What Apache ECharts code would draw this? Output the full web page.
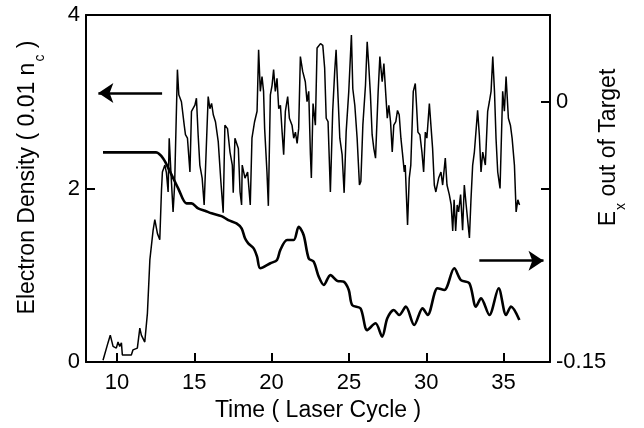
<!DOCTYPE html>
<html>
<head>
<meta charset="utf-8">
<script src="https://cdn.jsdelivr.net/npm/echarts@6/dist/echarts.min.js"></script>
<style>
html,body{margin:0;padding:0;background:#fff;}
#chart{width:644px;height:428px;}
</style>
</head>
<body>
<div id="chart"></div>
<script>
// Electron density (left axis, thin noisy line)
const timeDensity = [9.10,9.42,9.57,9.75,9.96,10.07,10.18,10.29,10.35,10.93,
11.04,11.32,11.48,11.58,11.80,11.97,12.13,12.34,12.45,12.62,
12.77,12.88,12.94,13.10,13.20,13.31,13.38,13.49,13.63,13.73,
13.91,14.00,14.17,14.35,14.43,14.56,14.72,14.82,15.04,15.14,
15.25,15.36,15.51,15.64,15.90,16.01,16.12,16.23,16.37,16.55,
16.72,16.87,16.98,17.15,17.31,17.46,17.52,17.63,17.85,17.96,
18.06,18.10,18.28,18.45,18.62,18.73,18.90,19.06,19.16,19.27,
19.38,19.48,19.55,19.70,19.79,19.92,20.03,20.13,20.24,20.35,
20.46,20.57,20.68,20.78,20.89,21.04,21.15,21.32,21.43,21.54,
21.65,21.75,21.86,22.01,22.18,22.29,22.40,22.51,22.57,22.68,
22.83,22.94,23.16,23.31,23.43,23.53,23.65,23.80,23.95,24.08,
24.17,24.30,24.41,24.56,24.69,24.82,24.99,25.16,25.25,25.38,
25.53,25.68,25.77,25.90,26.07,26.18,26.28,26.39,26.50,26.61,
26.72,26.89,27.00,27.15,27.26,27.37,27.48,27.58,27.69,27.80,
27.90,28.03,28.14,28.25,28.36,28.47,28.58,28.64,28.79,28.90,
29.00,29.16,29.29,29.37,29.46,29.59,29.72,29.83,29.94,30.04,
30.20,30.30,30.41,30.52,30.62,30.80,30.95,31.06,31.23,31.34,
31.49,31.61,31.71,31.80,31.90,32.00,32.09,32.22,32.35,32.46,
32.58,32.79,32.89,33.00,33.11,33.32,33.43,33.54,33.65,33.82,
33.97,34.08,34.19,34.30,34.41,34.51,34.62,34.77,34.94,35.05,
35.16,35.31,35.44,35.55,35.70,35.81,35.92,36.03];
const density = [0.02,0.22,0.31,0.18,0.16,0.23,0.18,0.22,0.08,0.08,
0.14,0.16,0.39,0.31,0.23,0.56,1.18,1.52,1.64,1.48,
1.41,1.98,2.19,2.27,2.18,1.96,2.58,2.19,1.73,2.04,
3.37,3.08,3.00,2.73,2.62,2.58,2.19,2.89,2.96,3.04,
2.62,2.27,2.12,1.81,3.06,2.92,2.98,2.85,2.77,2.54,
2.08,1.72,2.73,2.69,2.42,2.27,1.95,2.58,2.46,1.96,
1.81,2.27,2.12,2.19,1.81,2.58,2.77,2.89,3.60,3.12,
3.29,3.12,2.69,2.19,1.80,3.08,3.19,3.37,3.12,3.27,
2.92,2.96,2.65,2.39,2.89,3.06,2.81,2.73,2.58,2.65,
2.52,2.69,3.52,3.35,3.23,3.00,3.12,2.39,2.12,2.98,
2.73,3.62,3.67,3.65,3.39,2.81,2.77,1.96,2.89,3.35,
3.60,3.04,2.58,2.39,1.95,2.65,3.12,3.77,3.15,2.96,
2.58,2.04,2.08,2.73,3.19,3.69,3.42,3.08,2.62,2.46,
2.35,3.12,3.52,3.23,3.44,3.12,2.81,2.96,2.77,2.42,
2.73,2.77,2.90,2.85,2.58,2.39,2.19,2.27,1.58,2.12,
2.27,3.12,3.21,2.96,2.65,2.62,2.42,2.19,2.65,2.58,
2.98,2.73,2.46,2.04,1.96,2.12,2.19,2.04,2.35,2.04,
1.93,1.81,1.51,1.87,1.51,1.81,1.73,1.93,1.52,2.04,
1.81,1.43,1.87,2.27,2.42,2.90,2.62,2.19,2.42,2.27,
2.89,3.00,3.12,3.52,3.12,2.58,2.19,2.00,3.12,2.89,
3.29,2.81,2.73,2.58,2.27,1.73,1.87,1.81];

// Ex out of target (right axis, thick line)
const timeField = [9.10,12.53,12.99,13.44,13.96,14.50,14.82,15.25,15.69,16.12,
16.76,17.20,17.73,18.06,18.28,18.49,18.84,19.06,19.27,19.92,
20.35,20.56,21.00,21.43,21.75,22.07,22.40,22.72,23.05,23.37,
23.80,24.24,24.66,24.99,25.21,25.75,26.18,26.72,27.15,27.48,
27.90,28.25,28.68,29.22,29.76,30.09,30.73,31.17,31.81,32.24,
32.79,33.21,33.54,34.08,34.68,35.16,35.48,36.02];
const field = [-0.0292,-0.0292,-0.0327,-0.0404,-0.0499,-0.0586,-0.0586,-0.0615,-0.0628,-0.0643,
-0.0659,-0.0682,-0.0701,-0.0730,-0.0787,-0.0816,-0.0845,-0.0893,-0.0960,-0.0931,
-0.0912,-0.0855,-0.0797,-0.0797,-0.0721,-0.0768,-0.0903,-0.0922,-0.1009,-0.1056,
-0.0999,-0.1032,-0.1037,-0.1085,-0.1172,-0.1191,-0.1316,-0.1277,-0.1354,-0.1248,
-0.1200,-0.1229,-0.1181,-0.1287,-0.1191,-0.1229,-0.1075,-0.1085,-0.0960,-0.1028,
-0.1047,-0.1181,-0.1133,-0.1229,-0.1075,-0.1229,-0.1181,-0.1258];

// Axis ticks and labels
const xTicks = [10, 15, 20, 25, 30, 35];
const leftTicks = [0, 2, 4];
const rightLabels = [-0.15, 0];
const rightTicks = [-0.05, 0];

// Arrow annotations (data units): [tStart, tTip, value]
const arrowLeft = [12.92, 8.80, 3.10];
const arrowRight = [33.43, 37.58, -0.0916];

const FONT = '"Liberation Sans", Arial, Helvetica, sans-serif';
const zip = (a, b) => a.map((v, i) => [v, b[i]]);

const chart = echarts.init(document.getElementById('chart'), null, {renderer: 'canvas'});

const axisLine = {show: true, onZero: false, lineStyle: {color: '#000', width: 2}};
const tickStyle = {color: '#000', width: 2};
const labelBase = {color: '#000', fontSize: 22, fontFamily: FONT};
const richName = {
  a: {fontSize: 23, fontFamily: FONT, color: '#000', verticalAlign: 'top'},
  s: {fontSize: 14, fontFamily: FONT, color: '#000', padding: [17, 0, 0, 1], verticalAlign: 'bottom'}
};

chart.setOption({
  animation: false,
  backgroundColor: '#fff',
  grid: {left: 86, right: 94, top: 15, bottom: 66, containLabel: false, outerBoundsMode: 'none', show: false},
  xAxis: [{
    type: 'value', min: 8, max: 38, position: 'bottom',
    axisLine: axisLine,
    axisTick: {show: true, inside: true, length: 9, lineStyle: tickStyle, customValues: xTicks},
    axisLabel: Object.assign({customValues: xTicks, margin: 10}, labelBase),
    splitLine: {show: false},
    name: 'Time ( Laser Cycle )', nameLocation: 'middle', nameGap: 36,
    nameTextStyle: {color: '#000', fontSize: 23, fontFamily: FONT}
  }, {
    type: 'value', min: 8, max: 38, position: 'top',
    axisLine: axisLine, axisTick: {show: false}, axisLabel: {show: false}, splitLine: {show: false}
  }],
  yAxis: [{
    type: 'value', min: 0, max: 4, position: 'left',
    axisLine: axisLine,
    axisTick: {show: true, inside: true, length: 9, lineStyle: tickStyle, customValues: leftTicks},
    axisLabel: Object.assign({customValues: leftTicks, margin: 6}, labelBase),
    splitLine: {show: false},
    name: '{a|Electron Density ( 0.01 n}{s|c}{a| )}',
    nameLocation: 'middle', nameRotate: 90, nameGap: 39,
    nameTextStyle: {color: '#000', fontFamily: FONT, padding: [0, 0, 0, 22], rich: richName}
  }, {
    type: 'value', min: -0.15, max: 0.05, position: 'right',
    axisLine: axisLine,
    axisTick: {show: true, inside: true, length: 9, lineStyle: tickStyle, customValues: rightTicks},
    axisLabel: Object.assign({customValues: rightLabels, margin: 6}, labelBase),
    splitLine: {show: false},
    name: '{a|E}{s|x}{a| out of Target}',
    nameLocation: 'middle', nameRotate: 90, nameGap: 47, nameMoveOverlap: false,
    nameTextStyle: {color: '#000', fontFamily: FONT, padding: [0, 0, 0, 82], rich: richName}
  }],
  series: [{
    name: 'Electron Density', type: 'line', xAxisIndex: 0, yAxisIndex: 0,
    data: zip(timeDensity, density),
    showSymbol: false, symbol: 'none',
    lineStyle: {color: '#000', width: 1.5},
    markLine: {
      silent: true, symbol: ['none', 'arrow'], symbolSize: 15,
      lineStyle: {color: '#000', width: 2.5, type: 'solid'},
      label: {show: false},
      data: [[{coord: [arrowLeft[0], arrowLeft[2]]}, {coord: [arrowLeft[1], arrowLeft[2]]}]]
    }
  }, {
    name: 'Ex out of Target', type: 'line', xAxisIndex: 0, yAxisIndex: 1,
    data: zip(timeField, field),
    showSymbol: false, symbol: 'none', smooth: 0.3,
    lineStyle: {color: '#000', width: 2.6},
    markLine: {
      silent: true, symbol: ['none', 'arrow'], symbolSize: 15,
      lineStyle: {color: '#000', width: 2.5, type: 'solid'},
      label: {show: false},
      data: [[{coord: [arrowRight[0], arrowRight[2]]}, {coord: [arrowRight[1], arrowRight[2]]}]]
    }
  }]
});
</script>
</body>
</html>
